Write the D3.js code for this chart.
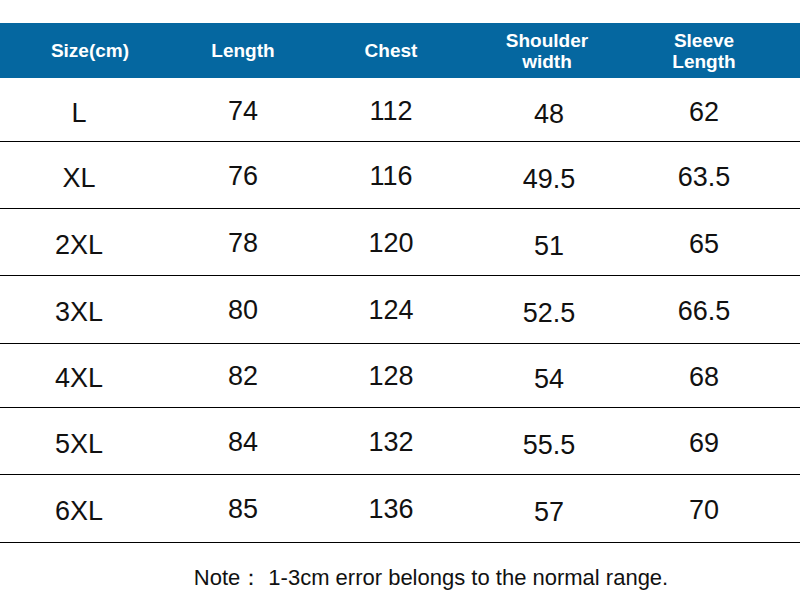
<!DOCTYPE html><html><head><meta charset="utf-8"><script src="https://cdn.jsdelivr.net/npm/d3@7"></script>
<style>body{margin:0;background:#fff}</style></head><body><svg id="c" width="800" height="608"></svg><script>
const sizes=["L","XL","2XL","3XL","4XL","5XL","6XL"];
const length=["74","76","78","80","82","84","85"];
const chest=["112","116","120","124","128","132","136"];
const shoulder=["48","49.5","51","52.5","54","55.5","57"];
const sleeve=["62","63.5","65","66.5","68","69","70"];
const headers=[["Size(cm)"],["Length"],["Chest"],["Shoulder","width"],["Sleeve","Length"]];
const note="Note\uFF1A 1-3cm error belongs to the normal range.";
const svg=d3.select("#c");
const font="Liberation Sans, Arial, sans-serif";
const hx=[90,243,391,547,704];
const colX=[79,243,391,549,704];
const yEdges=[78,141,208,275,343,407,474,542];
svg.append("rect").attr("x",0).attr("y",23).attr("width",800).attr("height",55).attr("fill","#0567a0");
headers.forEach((h,i)=>{
  const t=svg.append("text").attr("x",hx[i]).attr("text-anchor","middle").attr("fill","#fff")
   .attr("font-family",font).attr("font-weight","bold").attr("font-size",19);
  if(h.length===1){t.attr("y",57).text(h[0]);}
  else{h.forEach((s,k)=>t.append("tspan").attr("x",hx[i]).attr("y",47+k*21).text(s));}
});
const cols=[sizes,length,chest,shoulder,sleeve];
const dy=[12,10,10,13,11];
sizes.forEach((s,r)=>{
  const mid=(yEdges[r]+yEdges[r+1])/2;
  cols.forEach((c,i)=>{
    svg.append("text").attr("x",colX[i]).attr("y",mid+dy[i]).attr("text-anchor","middle")
     .attr("font-family",font).attr("font-size",27).attr("fill","#111").text(c[r]);
  });
  svg.append("line").attr("x1",0).attr("x2",800).attr("y1",yEdges[r+1]+0.5).attr("y2",yEdges[r+1]+0.5).attr("stroke","#000").attr("stroke-width",1.2);
});
svg.append("text").attr("x",431).attr("y",585).attr("text-anchor","middle").attr("font-family",font).attr("font-size",22).attr("fill","#111").text(note);
</script></body></html>
